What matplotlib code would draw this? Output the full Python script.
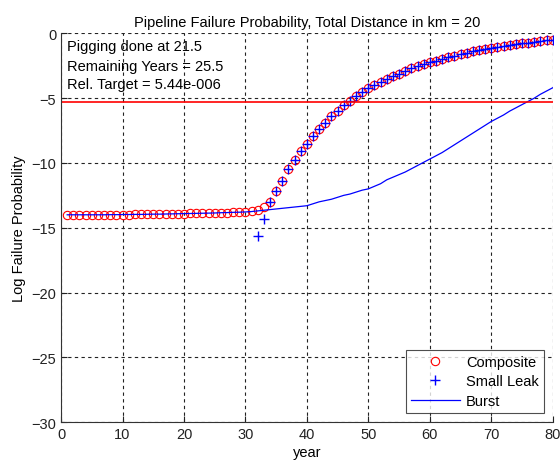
import numpy as np
import matplotlib
matplotlib.use("Agg")
import matplotlib.pyplot as plt

plt.rcParams['font.family'] = ['Liberation Sans', 'DejaVu Sans']

years = list(range(1, 81))

composite = [-14.0, -14.0, -14.0, -14.0, -14.0, -14.0, -14.0, -13.99, -13.99, -13.98,
             -13.98, -13.97, -13.97, -13.96, -13.95, -13.95, -13.94, -13.93, -13.92, -13.91,
             -13.90, -13.89, -13.88, -13.87, -13.86, -13.84, -13.83, -13.81, -13.80, -13.78,
             -13.72, -13.6, -13.4, -13.0, -12.2, -11.4, -10.5, -9.75, -9.1, -8.5,
             -7.9, -7.4, -6.9, -6.4, -6.0, -5.55, -5.2, -4.85, -4.5, -4.25,
             -4.0, -3.75, -3.5, -3.3, -3.1, -2.9, -2.7, -2.55, -2.4, -2.25,
             -2.1, -2.0, -1.85, -1.75, -1.6, -1.5, -1.4, -1.3, -1.2, -1.15,
             -1.05, -0.97, -0.9, -0.85, -0.77, -0.72, -0.67, -0.6, -0.54, -0.48]

small_leak = [np.nan] * 31 + [
    -15.6, -14.3, -13.0, -12.2, -11.4, -10.5, -9.75, -9.1, -8.5,
    -7.9, -7.4, -6.9, -6.4, -6.0, -5.55, -5.2, -4.85, -4.5, -4.25,
    -4.0, -3.75, -3.5, -3.3, -3.1, -2.9, -2.7, -2.55, -2.4, -2.25,
    -2.1, -2.0, -1.85, -1.75, -1.6, -1.5, -1.4, -1.3, -1.2, -1.15,
    -1.05, -0.97, -0.9, -0.85, -0.77, -0.72, -0.67, -0.6, -0.54, -0.48]

burst = [-14.0, -14.0, -14.0, -14.0, -14.0, -14.0, -14.0, -13.99, -13.99, -13.98,
         -13.98, -13.97, -13.97, -13.96, -13.95, -13.95, -13.94, -13.93, -13.92, -13.91,
         -13.90, -13.89, -13.88, -13.87, -13.86, -13.84, -13.83, -13.81, -13.80, -13.78,
         -13.75, -13.7, -13.65, -13.6, -13.55, -13.5, -13.45, -13.4, -13.35, -13.3,
         -13.15, -13.0, -12.9, -12.8, -12.65, -12.5, -12.4, -12.25, -12.1, -12.0,
         -11.8, -11.6, -11.3, -11.1, -10.9, -10.7, -10.45, -10.2, -9.95, -9.7,
         -9.45, -9.2, -8.9, -8.6, -8.3, -8.0, -7.7, -7.4, -7.1, -6.8,
         -6.55, -6.3, -6.0, -5.75, -5.5, -5.25, -5.0, -4.7, -4.45, -4.2]

rel_target = 5.44e-6
info_lines = ["Pigging done at 21.5", "Remaining Years = 25.5", "Rel. Target = 5.44e-006"]
xticks = [0, 10, 20, 30, 40, 50, 60, 70, 80]
yticks = [0, -5, -10, -15, -20, -25, -30]

FS = 10.5
fig = plt.figure(figsize=(5.6, 4.64), dpi=100)
ax = fig.add_axes([0.109, 0.088, 0.878, 0.838])

ax.plot(years, composite, linestyle='none', marker='o', markersize=6,
        markerfacecolor='none', markeredgecolor='red', markeredgewidth=0.8, label='Composite')
ax.plot(years, small_leak, linestyle='none', marker='+', markersize=7,
        color='blue', markeredgewidth=1.0, label='Small Leak')
ax.plot(years, burst, color='blue', linewidth=0.9, label='Burst')
ax.axhline(np.log10(rel_target), color='red', linewidth=1.2)

ax.set_xlim(0, 80)
ax.set_ylim(-30, 0)
ax.set_xticks(xticks)
ax.set_yticks(yticks)
ax.tick_params(direction='in', length=4, labelsize=FS, colors='#222222')
ax.grid(True, color='#222222', linestyle=(0, (3, 3)), linewidth=0.8)
for s in ['top', 'right']:
    ax.spines[s].set_visible(False)
for s in ['left', 'bottom']:
    ax.spines[s].set_color('#333333')

ax.set_title('Pipeline Failure Probability, Total Distance in km = 20', fontsize=FS, pad=5)
ax.set_xlabel('year', fontsize=FS, labelpad=3)
ax.set_ylabel('Log Failure Probability', fontsize=FS, labelpad=4)

info_y = [0.967, 0.916, 0.869]
for yy, line in zip(info_y, info_lines):
    ax.text(0.012, yy, line, transform=ax.transAxes,
            fontsize=FS, va='center', ha='left')

leg = ax.legend(loc='lower right', fontsize=FS, frameon=True, fancybox=False,
                edgecolor='#222222', borderpad=0.35, labelspacing=0.4,
                handlelength=3.4, handletextpad=0.4, borderaxespad=0.6)
leg.get_frame().set_linewidth(0.8)

fig.savefig('out.png', dpi=100)
